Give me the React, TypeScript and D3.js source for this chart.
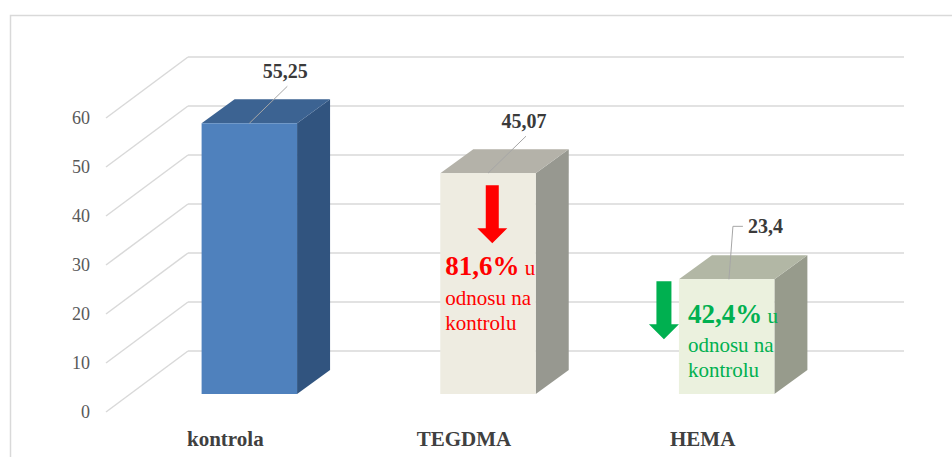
import React from "react";
import * as d3 from "d3";

const categories = ["kontrola", "TEGDMA", "HEMA"];
const values = [55.25, 45.07, 23.4];
const valueLabels = ["55,25", "45,07", "23,4"];
const yTicks = [0, 10, 20, 30, 40, 50, 60];
const frontColors = ["#4F81BD", "#EEECE1", "#EBF1DE"];
const topColors = ["#3C6392", "#B4B2A9", "#B2B7A5"];
const sideColors = ["#31547F", "#979890", "#979B8C"];
const changePercent = ["", "81,6%", "42,4%"];
const changeColors = ["", "#FF0000", "#00B050"];

const W = 952;
const H = 457;
const SERIF = "Liberation Serif, Tinos, Times New Roman, DejaVu Serif, serif";

export default function App() {
  const floorLeft = 106;
  const floorRight = 822;
  const wallDx = 82;
  const wallDy = -61;
  const barOffX = 24;
  const barOffY = -18;
  const barDx = 33;
  const barDy = -24;

  const y = d3.scaleLinear().domain([0, 60]).range([412, 118]);
  const x = d3
    .scaleBand<string>()
    .domain(categories)
    .range([floorLeft, floorRight])
    .paddingInner(0.6)
    .paddingOuter(0.3);
  const band = d3
    .scaleBand<string>()
    .domain(categories)
    .range([floorLeft, floorRight]);
  const bw = x.bandwidth();
  const yb = (v: number) => y(v) + barOffY;

  const poly = (pts: [number, number][]) => d3.line()(pts) + "Z";

  return (
    <svg
      width={W}
      height={H}
      style={{ position: "absolute", left: 0, top: 0, background: "#fff", fontFamily: SERIF }}
    >
      <path
        d={`M10.5,${H} L10.5,15.5 L${W},15.5`}
        fill="none"
        stroke="#D9D9D9"
        strokeWidth={1.5}
      />
      {yTicks.map((t) => (
        <g key={t}>
          <line
            x1={floorLeft}
            y1={y(t)}
            x2={floorLeft + wallDx}
            y2={y(t) + wallDy}
            stroke="#D9D9D9"
            strokeWidth={1.5}
          />
          <line
            x1={floorLeft + wallDx}
            y1={y(t) + wallDy}
            x2={floorRight + wallDx}
            y2={y(t) + wallDy}
            stroke="#D9D9D9"
            strokeWidth={1.5}
          />
          <text
            x={90}
            y={y(t)}
            dy="0.36em"
            textAnchor="end"
            style={{ fontFamily: SERIF }}
            fontSize={18}
            fill="#595959"
          >
            {t}
          </text>
        </g>
      ))}
      {categories.map((c, i) => {
        const x0 = (x(c) as number) + barOffX;
        const x1 = x0 + bw;
        const yt = yb(values[i]);
        const y0 = yb(0);
        return (
          <g key={c}>
            <path
              d={poly([
                [x1, y0],
                [x1, yt],
                [x1 + barDx, yt + barDy],
                [x1 + barDx, y0 + barDy],
              ])}
              fill={sideColors[i]}
            />
            <path
              d={poly([
                [x0, yt],
                [x0 + barDx, yt + barDy],
                [x1 + barDx, yt + barDy],
                [x1, yt],
              ])}
              fill={topColors[i]}
            />
            <rect x={x0} y={yt} width={bw} height={y0 - yt} fill={frontColors[i]} />
          </g>
        );
      })}
      {categories.map((c, i) => {
        const x0 = (x(c) as number) + barOffX;
        const cx = x0 + bw / 2;
        const yt = yb(values[i]);
        if (i < 2) {
          return (
            <g key={"lbl" + c}>
              <line
                x1={cx}
                y1={yt}
                x2={cx + 38}
                y2={yt - 37}
                stroke="#A6A6A6"
                strokeWidth={1}
              />
              <text
                x={cx + 36}
                y={yt - 45}
                textAnchor="middle"
                style={{ fontFamily: SERIF }}
                fontWeight="bold"
                fontSize={20}
                fill="#3A3A3A"
              >
                {valueLabels[i]}
              </text>
            </g>
          );
        }
        return (
          <g key={"lbl" + c}>
            <path
              d={`M${x0 + 50},${yt} L${x0 + 54},${yt - 53} L${x0 + 64},${yt - 53}`}
              fill="none"
              stroke="#A6A6A6"
              strokeWidth={1}
            />
            <text
              x={x0 + 69}
              y={yt - 46}
              style={{ fontFamily: SERIF }}
              fontWeight="bold"
              fontSize={20}
              fill="#3A3A3A"
            >
              {valueLabels[i]}
            </text>
          </g>
        );
      })}
      {categories.map((c) => (
        <text
          key={"cat" + c}
          x={(band(c) as number) + band.bandwidth() / 2}
          y={446}
          textAnchor="middle"
          style={{ fontFamily: SERIF }}
          fontWeight="bold"
          fontSize={21}
          fill="#404040"
        >
          {c}
        </text>
      ))}
      {(() => {
        const c = categories[1];
        const x0 = (x(c) as number) + barOffX;
        const ax = x0 + 52;
        const yt = yb(values[1]);
        const s = yt + 12;
        const col = changeColors[1];
        return (
          <g style={{ fontFamily: SERIF }}>
            <path
              d={poly([
                [ax - 6.5, s],
                [ax + 6.5, s],
                [ax + 6.5, s + 43],
                [ax + 15, s + 43],
                [ax, s + 58],
                [ax - 15, s + 43],
                [ax - 6.5, s + 43],
              ])}
              fill={col}
            />
            <text x={x0 + 5} y={275} fill={col}>
              <tspan fontWeight="bold" fontSize={27}>{changePercent[1]}</tspan>
              <tspan fontSize={21}> u</tspan>
            </text>
            <text x={x0 + 5} y={305} fontSize={21} fill={col}>
              odnosu na
            </text>
            <text x={x0 + 5} y={330} fontSize={21} fill={col}>
              kontrolu
            </text>
          </g>
        );
      })()}
      {(() => {
        const c = categories[2];
        const x0 = (x(c) as number) + barOffX;
        const ax = x0 - 15;
        const yt = yb(values[2]);
        const s = yt + 2;
        const col = changeColors[2];
        return (
          <g style={{ fontFamily: SERIF }}>
            <path
              d={poly([
                [ax - 7.5, s],
                [ax + 7.5, s],
                [ax + 7.5, s + 43],
                [ax + 15, s + 43],
                [ax, s + 58],
                [ax - 15, s + 43],
                [ax - 7.5, s + 43],
              ])}
              fill={col}
            />
            <text x={x0 + 9} y={323} fill={col}>
              <tspan fontWeight="bold" fontSize={27}>{changePercent[2]}</tspan>
              <tspan fontSize={21}> u</tspan>
            </text>
            <text x={x0 + 9} y={352} fontSize={21} fill={col}>
              odnosu na
            </text>
            <text x={x0 + 9} y={377} fontSize={21} fill={col}>
              kontrolu
            </text>
          </g>
        );
      })()}
    </svg>
  );
}
